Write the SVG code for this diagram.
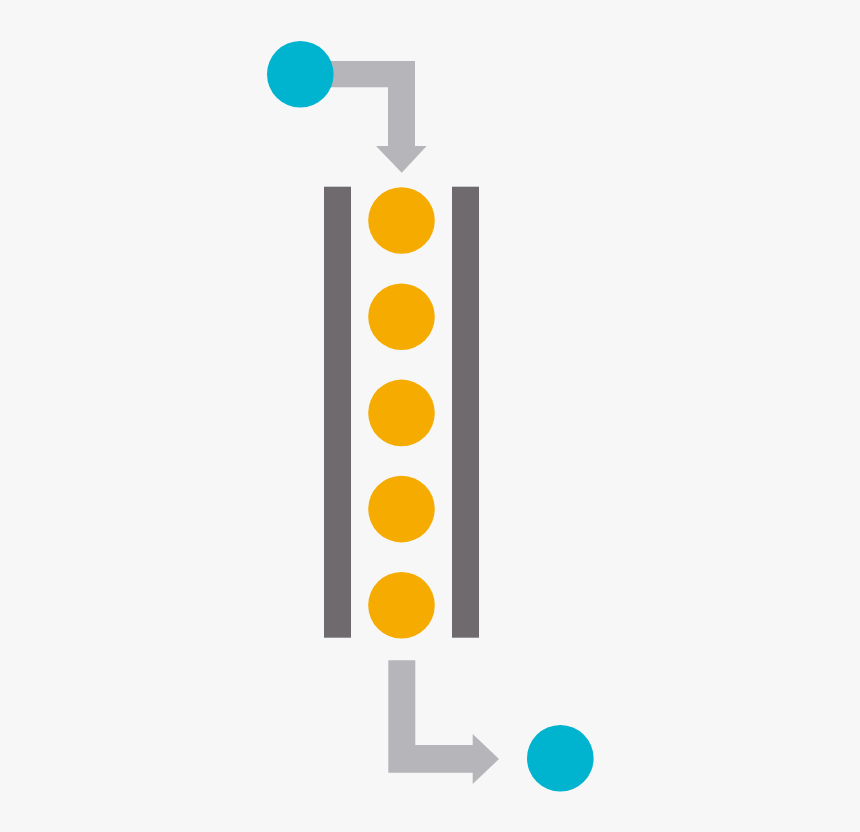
<svg xmlns="http://www.w3.org/2000/svg" width="860" height="832" viewBox="0 0 860 832">
<style>
.flow{fill:#b6b5b9}
.io{fill:#00b3cf}
.bead{fill:#f5ab00}
.wall{fill:#6e6a6e}
</style>
<rect width="860" height="832" fill="#f7f7f7"/>
<g id="connectors">
<path class="flow" d="M320 61 H415 V146 H426.7 L401.7 172.7 L376 146 H388 V87.3 H320 Z"/>
<path class="flow" d="M388.3 660.3 H415.3 V745 H472.7 V734 L499 759 L472.7 784 V772.7 H388.3 Z"/>
</g>
<g id="input"><circle class="io" cx="300.3" cy="74.3" r="33.3"/></g>
<g id="column">
<rect class="wall" x="324" y="186.7" width="27" height="451"/>
<rect class="wall" x="452" y="186.7" width="27" height="451"/>
</g>
<g id="beads">
<circle class="bead" cx="401.5" cy="220.5" r="33.3"/>
<circle class="bead" cx="401.5" cy="316.7" r="33.3"/>
<circle class="bead" cx="401.5" cy="412.9" r="33.3"/>
<circle class="bead" cx="401.5" cy="509.1" r="33.3"/>
<circle class="bead" cx="401.5" cy="605.3" r="33.3"/>
</g>
<g id="output"><circle class="io" cx="560.3" cy="758.3" r="33.3"/></g>
</svg>
